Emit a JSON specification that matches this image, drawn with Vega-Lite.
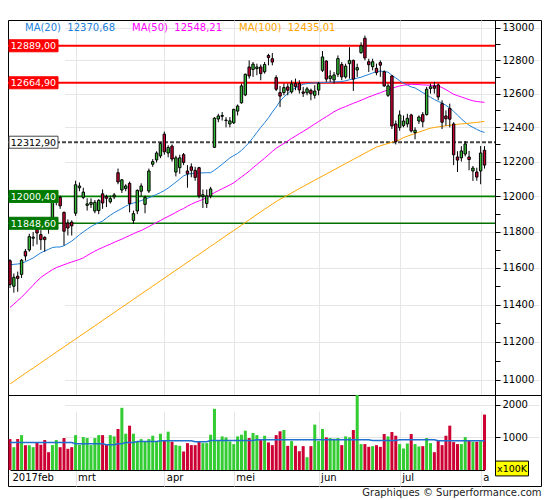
{
"$schema": "https://vega.github.io/schema/vega-lite/v6.json",
"padding": {"left": 6, "right": 6, "top": 19, "bottom": 0},
"background": "white",
"config": {
  "font": "DejaVu Sans",
  "view": {"stroke": "black", "strokeWidth": 1},
  "axis": {"labelFont": "DejaVu Sans", "labelFontSize": 10, "labelColor": "black", "gridColor": "#e6e6e6", "domainColor": "black", "tickColor": "black", "title": null},
  "legend": {"labelFont": "DejaVu Sans", "labelFontSize": 10}
},
"title": {"text": "Graphiques © Surperformance.com", "orient": "bottom", "anchor": "end", "fontSize": 10, "fontWeight": "normal", "font": "DejaVu Sans", "color": "#222222", "offset": 1},
"datasets": {
"px": [
{"d":"2017-02-06","o":11640,"h":11648,"l":11490,"c":11509,"v":948,"m20":11618,"m50":11385,"m100":10979,"vm":845},
{"d":"2017-02-07","o":11500,"h":11570,"l":11465,"c":11549,"v":700,"m20":11620,"m50":11403,"m100":10993,"vm":845},
{"d":"2017-02-08","o":11555,"h":11580,"l":11470,"c":11543,"v":950,"m20":11622,"m50":11422,"m100":11007,"vm":845},
{"d":"2017-02-09","o":11565,"h":11650,"l":11545,"c":11643,"v":1070,"m20":11625,"m50":11440,"m100":11021,"vm":845},
{"d":"2017-02-10","o":11692,"h":11705,"l":11640,"c":11666,"v":760,"m20":11635,"m50":11462,"m100":11035,"vm":845},
{"d":"2017-02-13","o":11700,"h":11790,"l":11690,"c":11774,"v":760,"m20":11645,"m50":11484,"m100":11049,"vm":845},
{"d":"2017-02-14","o":11765,"h":11800,"l":11720,"c":11771,"v":700,"m20":11655,"m50":11506,"m100":11062,"vm":845},
{"d":"2017-02-15","o":11815,"h":11830,"l":11730,"c":11794,"v":845,"m20":11670,"m50":11528,"m100":11076,"vm":845},
{"d":"2017-02-16","o":11785,"h":11810,"l":11700,"c":11757,"v":775,"m20":11684,"m50":11548,"m100":11090,"vm":845},
{"d":"2017-02-17","o":11770,"h":11775,"l":11690,"c":11757,"v":918,"m20":11694,"m50":11563,"m100":11104,"vm":845},
{"d":"2017-02-20","o":11855,"h":11862,"l":11790,"c":11828,"v":546,"m20":11703,"m50":11577,"m100":11118,"vm":845},
{"d":"2017-02-21","o":11830,"h":11970,"l":11820,"c":11967,"v":763,"m20":11713,"m50":11591,"m100":11132,"vm":845},
{"d":"2017-02-22","o":11970,"h":12030,"l":11950,"c":11998,"v":918,"m20":11716,"m50":11602,"m100":11146,"vm":845},
{"d":"2017-02-23","o":11995,"h":12005,"l":11930,"c":11947,"v":700,"m20":11716,"m50":11610,"m100":11160,"vm":845},
{"d":"2017-02-24","o":11910,"h":11915,"l":11725,"c":11804,"v":980,"m20":11723,"m50":11618,"m100":11174,"vm":845},
{"d":"2017-02-27","o":11850,"h":11870,"l":11780,"c":11822,"v":650,"m20":11736,"m50":11626,"m100":11188,"vm":845},
{"d":"2017-02-28","o":11855,"h":11865,"l":11780,"c":11834,"v":700,"m20":11749,"m50":11633,"m100":11202,"vm":845},
{"d":"2017-03-01","o":11905,"h":12090,"l":11890,"c":12067,"v":1070,"m20":11766,"m50":11640,"m100":11216,"vm":804},
{"d":"2017-03-02","o":12050,"h":12080,"l":12030,"c":12060,"v":773,"m20":11784,"m50":11647,"m100":11230,"vm":804},
{"d":"2017-03-03","o":11995,"h":12050,"l":11985,"c":12025,"v":1010,"m20":11800,"m50":11656,"m100":11244,"vm":804},
{"d":"2017-03-06","o":11950,"h":11990,"l":11920,"c":11958,"v":980,"m20":11815,"m50":11669,"m100":11258,"vm":804},
{"d":"2017-03-07","o":11955,"h":11990,"l":11935,"c":11966,"v":763,"m20":11830,"m50":11681,"m100":11272,"vm":804},
{"d":"2017-03-08","o":11918,"h":11980,"l":11905,"c":11967,"v":980,"m20":11842,"m50":11693,"m100":11286,"vm":804},
{"d":"2017-03-09","o":11920,"h":11985,"l":11900,"c":11978,"v":1070,"m20":11852,"m50":11704,"m100":11300,"vm":804},
{"d":"2017-03-10","o":12015,"h":12040,"l":11930,"c":11963,"v":1070,"m20":11861,"m50":11713,"m100":11315,"vm":804},
{"d":"2017-03-13","o":12000,"h":12010,"l":11940,"c":11990,"v":773,"m20":11878,"m50":11723,"m100":11329,"vm":773},
{"d":"2017-03-14","o":11970,"h":12005,"l":11960,"c":11988,"v":1070,"m20":11894,"m50":11732,"m100":11343,"vm":773},
{"d":"2017-03-15","o":11998,"h":12020,"l":11985,"c":12009,"v":1030,"m20":11908,"m50":11742,"m100":11357,"vm":773},
{"d":"2017-03-16","o":12136,"h":12160,"l":12070,"c":12083,"v":1258,"m20":11920,"m50":11751,"m100":11372,"vm":804},
{"d":"2017-03-17","o":12037,"h":12100,"l":12020,"c":12095,"v":1907,"m20":11932,"m50":11760,"m100":11386,"vm":804},
{"d":"2017-03-20","o":12045,"h":12070,"l":12030,"c":12060,"v":1113,"m20":11945,"m50":11770,"m100":11400,"vm":845},
{"d":"2017-03-21","o":12075,"h":12085,"l":11910,"c":11960,"v":1360,"m20":11955,"m50":11780,"m100":11414,"vm":845},
{"d":"2017-03-22","o":11865,"h":11920,"l":11845,"c":11903,"v":1113,"m20":11963,"m50":11790,"m100":11429,"vm":845},
{"d":"2017-03-23","o":11918,"h":12040,"l":11900,"c":12035,"v":876,"m20":11969,"m50":11800,"m100":11443,"vm":876},
{"d":"2017-03-24","o":12030,"h":12075,"l":12000,"c":12060,"v":948,"m20":11977,"m50":11808,"m100":11458,"vm":876},
{"d":"2017-03-27","o":11955,"h":12005,"l":11905,"c":11995,"v":866,"m20":11984,"m50":11819,"m100":11472,"vm":876},
{"d":"2017-03-28","o":12031,"h":12160,"l":12020,"c":12146,"v":948,"m20":11993,"m50":11830,"m100":11486,"vm":876},
{"d":"2017-03-29","o":12185,"h":12215,"l":12170,"c":12200,"v":1051,"m20":12002,"m50":11842,"m100":11501,"vm":876},
{"d":"2017-03-30","o":12210,"h":12260,"l":12195,"c":12250,"v":866,"m20":12012,"m50":11853,"m100":11515,"vm":876},
{"d":"2017-03-31","o":12233,"h":12315,"l":12220,"c":12305,"v":1113,"m20":12022,"m50":11864,"m100":11530,"vm":897},
{"d":"2017-04-03","o":12360,"h":12375,"l":12240,"c":12257,"v":907,"m20":12034,"m50":11876,"m100":11544,"vm":897},
{"d":"2017-04-04","o":12250,"h":12295,"l":12225,"c":12282,"v":1175,"m20":12048,"m50":11887,"m100":11559,"vm":897},
{"d":"2017-04-05","o":12290,"h":12300,"l":12200,"c":12215,"v":866,"m20":12065,"m50":11898,"m100":11573,"vm":897},
{"d":"2017-04-06","o":12140,"h":12235,"l":12115,"c":12222,"v":763,"m20":12082,"m50":11910,"m100":11588,"vm":897},
{"d":"2017-04-07","o":12165,"h":12240,"l":12130,"c":12222,"v":742,"m20":12100,"m50":11922,"m100":11602,"vm":897},
{"d":"2017-04-10","o":12240,"h":12250,"l":12180,"c":12195,"v":567,"m20":12118,"m50":11932,"m100":11617,"vm":897},
{"d":"2017-04-11","o":12146,"h":12180,"l":12050,"c":12130,"v":825,"m20":12127,"m50":11945,"m100":11632,"vm":897},
{"d":"2017-04-12","o":12170,"h":12190,"l":12110,"c":12150,"v":763,"m20":12131,"m50":11956,"m100":11646,"vm":897},
{"d":"2017-04-13","o":12150,"h":12170,"l":12090,"c":12109,"v":763,"m20":12134,"m50":11966,"m100":11661,"vm":866},
{"d":"2017-04-18","o":12165,"h":12170,"l":11990,"c":12003,"v":876,"m20":12135,"m50":11975,"m100":11675,"vm":866},
{"d":"2017-04-19","o":12000,"h":12040,"l":11935,"c":12010,"v":825,"m20":12135,"m50":11983,"m100":11690,"vm":866},
{"d":"2017-04-20","o":11960,"h":12040,"l":11935,"c":12003,"v":825,"m20":12136,"m50":11996,"m100":11705,"vm":866},
{"d":"2017-04-21","o":12003,"h":12055,"l":11990,"c":12043,"v":1082,"m20":12136,"m50":12010,"m100":11720,"vm":907},
{"d":"2017-04-24","o":12283,"h":12460,"l":12280,"c":12454,"v":1876,"m20":12151,"m50":12022,"m100":11734,"vm":907},
{"d":"2017-04-25","o":12449,"h":12480,"l":12430,"c":12467,"v":907,"m20":12167,"m50":12033,"m100":11749,"vm":907},
{"d":"2017-04-26","o":12465,"h":12490,"l":12440,"c":12470,"v":1030,"m20":12185,"m50":12044,"m100":11764,"vm":907},
{"d":"2017-04-27","o":12440,"h":12460,"l":12400,"c":12443,"v":1000,"m20":12203,"m50":12055,"m100":11779,"vm":907},
{"d":"2017-04-28","o":12420,"h":12460,"l":12400,"c":12438,"v":876,"m20":12222,"m50":12066,"m100":11794,"vm":907},
{"d":"2017-05-02","o":12427,"h":12510,"l":12420,"c":12506,"v":794,"m20":12235,"m50":12078,"m100":11808,"vm":907},
{"d":"2017-05-03","o":12496,"h":12535,"l":12470,"c":12526,"v":1030,"m20":12248,"m50":12095,"m100":11823,"vm":907},
{"d":"2017-05-04","o":12545,"h":12660,"l":12540,"c":12646,"v":1082,"m20":12265,"m50":12112,"m100":11838,"vm":907},
{"d":"2017-05-05","o":12592,"h":12720,"l":12585,"c":12716,"v":1206,"m20":12288,"m50":12128,"m100":11853,"vm":907},
{"d":"2017-05-08","o":12760,"h":12800,"l":12690,"c":12706,"v":980,"m20":12311,"m50":12145,"m100":11868,"vm":907},
{"d":"2017-05-09","o":12745,"h":12790,"l":12700,"c":12777,"v":1134,"m20":12340,"m50":12165,"m100":11883,"vm":907},
{"d":"2017-05-10","o":12750,"h":12780,"l":12710,"c":12760,"v":1070,"m20":12370,"m50":12183,"m100":11898,"vm":928},
{"d":"2017-05-11","o":12760,"h":12775,"l":12680,"c":12720,"v":918,"m20":12400,"m50":12202,"m100":11913,"vm":928},
{"d":"2017-05-12","o":12731,"h":12790,"l":12720,"c":12775,"v":1051,"m20":12427,"m50":12220,"m100":11928,"vm":928},
{"d":"2017-05-15","o":12830,"h":12840,"l":12770,"c":12817,"v":845,"m20":12456,"m50":12240,"m100":11942,"vm":928},
{"d":"2017-05-16","o":12810,"h":12845,"l":12770,"c":12790,"v":763,"m20":12490,"m50":12259,"m100":11957,"vm":928},
{"d":"2017-05-17","o":12696,"h":12710,"l":12615,"c":12626,"v":1070,"m20":12520,"m50":12278,"m100":11971,"vm":928},
{"d":"2017-05-18","o":12606,"h":12646,"l":12520,"c":12585,"v":1186,"m20":12555,"m50":12292,"m100":11984,"vm":928},
{"d":"2017-05-19","o":12606,"h":12660,"l":12590,"c":12636,"v":1227,"m20":12580,"m50":12306,"m100":11996,"vm":928},
{"d":"2017-05-22","o":12640,"h":12660,"l":12590,"c":12620,"v":742,"m20":12600,"m50":12320,"m100":12008,"vm":928},
{"d":"2017-05-23","o":12610,"h":12680,"l":12600,"c":12659,"v":887,"m20":12620,"m50":12335,"m100":12020,"vm":928},
{"d":"2017-05-24","o":12660,"h":12690,"l":12620,"c":12642,"v":742,"m20":12635,"m50":12349,"m100":12033,"vm":928},
{"d":"2017-05-25","o":12660,"h":12680,"l":12600,"c":12622,"v":577,"m20":12645,"m50":12363,"m100":12045,"vm":928},
{"d":"2017-05-26","o":12610,"h":12640,"l":12580,"c":12602,"v":732,"m20":12656,"m50":12376,"m100":12057,"vm":928},
{"d":"2017-05-29","o":12605,"h":12640,"l":12590,"c":12628,"v":392,"m20":12660,"m50":12390,"m100":12069,"vm":928},
{"d":"2017-05-30","o":12620,"h":12630,"l":12560,"c":12599,"v":732,"m20":12662,"m50":12405,"m100":12081,"vm":928},
{"d":"2017-05-31","o":12590,"h":12650,"l":12570,"c":12615,"v":1392,"m20":12664,"m50":12420,"m100":12093,"vm":928},
{"d":"2017-06-01","o":12621,"h":12670,"l":12590,"c":12661,"v":887,"m20":12665,"m50":12434,"m100":12105,"vm":928},
{"d":"2017-06-02","o":12740,"h":12857,"l":12730,"c":12821,"v":1258,"m20":12666,"m50":12449,"m100":12117,"vm":928},
{"d":"2017-06-06","o":12796,"h":12800,"l":12670,"c":12687,"v":1000,"m20":12667,"m50":12463,"m100":12129,"vm":928},
{"d":"2017-06-07","o":12690,"h":12740,"l":12670,"c":12706,"v":980,"m20":12668,"m50":12477,"m100":12141,"vm":928},
{"d":"2017-06-08","o":12682,"h":12730,"l":12660,"c":12712,"v":959,"m20":12670,"m50":12492,"m100":12153,"vm":928},
{"d":"2017-06-09","o":12716,"h":12830,"l":12700,"c":12811,"v":980,"m20":12671,"m50":12504,"m100":12165,"vm":928},
{"d":"2017-06-12","o":12775,"h":12790,"l":12680,"c":12700,"v":763,"m20":12672,"m50":12514,"m100":12177,"vm":928},
{"d":"2017-06-13","o":12700,"h":12780,"l":12690,"c":12765,"v":1030,"m20":12677,"m50":12523,"m100":12189,"vm":928},
{"d":"2017-06-14","o":12780,"h":12880,"l":12690,"c":12800,"v":1000,"m20":12683,"m50":12533,"m100":12201,"vm":928},
{"d":"2017-06-15","o":12800,"h":12805,"l":12616,"c":12687,"v":1227,"m20":12688,"m50":12542,"m100":12213,"vm":928},
{"d":"2017-06-16","o":12742,"h":12780,"l":12700,"c":12756,"v":2400,"m20":12693,"m50":12551,"m100":12225,"vm":928},
{"d":"2017-06-19","o":12847,"h":12910,"l":12840,"c":12889,"v":794,"m20":12698,"m50":12560,"m100":12237,"vm":928},
{"d":"2017-06-20","o":12935,"h":12951,"l":12800,"c":12815,"v":794,"m20":12707,"m50":12570,"m100":12249,"vm":928},
{"d":"2017-06-21","o":12792,"h":12810,"l":12730,"c":12774,"v":711,"m20":12715,"m50":12580,"m100":12261,"vm":928},
{"d":"2017-06-22","o":12762,"h":12810,"l":12740,"c":12792,"v":732,"m20":12724,"m50":12588,"m100":12273,"vm":907},
{"d":"2017-06-23","o":12752,"h":12780,"l":12710,"c":12726,"v":763,"m20":12733,"m50":12597,"m100":12285,"vm":907},
{"d":"2017-06-26","o":12787,"h":12800,"l":12700,"c":12771,"v":711,"m20":12735,"m50":12605,"m100":12292,"vm":907},
{"d":"2017-06-27","o":12731,"h":12740,"l":12640,"c":12646,"v":1103,"m20":12732,"m50":12614,"m100":12299,"vm":907},
{"d":"2017-06-28","o":12590,"h":12660,"l":12580,"c":12646,"v":1030,"m20":12729,"m50":12622,"m100":12306,"vm":907},
{"d":"2017-06-29","o":12706,"h":12710,"l":12390,"c":12408,"v":1165,"m20":12710,"m50":12631,"m100":12313,"vm":907},
{"d":"2017-06-30","o":12420,"h":12440,"l":12300,"c":12316,"v":1051,"m20":12694,"m50":12639,"m100":12319,"vm":907},
{"d":"2017-07-03","o":12398,"h":12500,"l":12380,"c":12473,"v":794,"m20":12677,"m50":12646,"m100":12327,"vm":928},
{"d":"2017-07-04","o":12410,"h":12470,"l":12400,"c":12437,"v":660,"m20":12662,"m50":12650,"m100":12340,"vm":928},
{"d":"2017-07-05","o":12420,"h":12480,"l":12400,"c":12453,"v":814,"m20":12651,"m50":12653,"m100":12348,"vm":928},
{"d":"2017-07-06","o":12473,"h":12480,"l":12370,"c":12379,"v":1103,"m20":12640,"m50":12656,"m100":12356,"vm":928},
{"d":"2017-07-07","o":12369,"h":12400,"l":12330,"c":12383,"v":794,"m20":12634,"m50":12655,"m100":12364,"vm":928},
{"d":"2017-07-10","o":12437,"h":12470,"l":12420,"c":12461,"v":722,"m20":12620,"m50":12654,"m100":12372,"vm":928},
{"d":"2017-07-11","o":12475,"h":12490,"l":12400,"c":12433,"v":732,"m20":12606,"m50":12652,"m100":12380,"vm":928},
{"d":"2017-07-12","o":12475,"h":12640,"l":12470,"c":12626,"v":980,"m20":12592,"m50":12651,"m100":12388,"vm":928},
{"d":"2017-07-13","o":12630,"h":12660,"l":12600,"c":12641,"v":825,"m20":12578,"m50":12650,"m100":12395,"vm":928},
{"d":"2017-07-14","o":12645,"h":12670,"l":12600,"c":12632,"v":546,"m20":12565,"m50":12648,"m100":12399,"vm":928},
{"d":"2017-07-17","o":12652,"h":12660,"l":12560,"c":12580,"v":897,"m20":12553,"m50":12646,"m100":12403,"vm":897},
{"d":"2017-07-18","o":12540,"h":12560,"l":12390,"c":12430,"v":763,"m20":12544,"m50":12636,"m100":12406,"vm":897},
{"d":"2017-07-19","o":12467,"h":12500,"l":12410,"c":12450,"v":1051,"m20":12530,"m50":12624,"m100":12409,"vm":897},
{"d":"2017-07-20","o":12512,"h":12540,"l":12400,"c":12448,"v":1360,"m20":12514,"m50":12610,"m100":12412,"vm":897},
{"d":"2017-07-21","o":12420,"h":12430,"l":12180,"c":12240,"v":856,"m20":12495,"m50":12596,"m100":12415,"vm":897},
{"d":"2017-07-24","o":12227,"h":12260,"l":12140,"c":12209,"v":794,"m20":12472,"m50":12588,"m100":12418,"vm":897},
{"d":"2017-07-25","o":12222,"h":12290,"l":12200,"c":12262,"v":794,"m20":12450,"m50":12580,"m100":12420,"vm":897},
{"d":"2017-07-26","o":12244,"h":12320,"l":12230,"c":12303,"v":1010,"m20":12430,"m50":12572,"m100":12422,"vm":897},
{"d":"2017-07-27","o":12227,"h":12262,"l":12150,"c":12212,"v":897,"m20":12412,"m50":12564,"m100":12424,"vm":897},
{"d":"2017-07-28","o":12146,"h":12175,"l":12089,"c":12163,"v":866,"m20":12400,"m50":12557,"m100":12427,"vm":897},
{"d":"2017-07-31","o":12140,"h":12165,"l":12090,"c":12111,"v":866,"m20":12388,"m50":12553,"m100":12429,"vm":897},
{"d":"2017-08-01","o":12146,"h":12291,"l":12070,"c":12250,"v":880,"m20":12377,"m50":12550,"m100":12432,"vm":897},
{"d":"2017-08-02","o":12266,"h":12290,"l":12160,"c":12180,"v":1700,"m20":12370,"m50":12548,"m100":12435,"vm":897}
],
"lv": [
{"lvl":12889,"lab":"12889,00","kind":"r1"},
{"lvl":12664.9,"lab":"12664,90","kind":"r2"},
{"lvl":12312.9,"lab":"12312,90","kind":"p"},
{"lvl":12000.4,"lab":"12000,40","kind":"s1"},
{"lvl":11848.6,"lab":"11848,60","kind":"s2"}
],
"unit": [{"t":"x100K"}]
},
"spacing": 0,
"bounds": "flush",
"resolve": {"scale": {"x": "independent", "y": "independent", "color": "independent", "fill": "independent", "stroke": "independent"}},
"vconcat": [
{
  "width": 533, "height": 375,
  "data": {"name": "px"},
  "encoding": {
    "x": {"field": "d", "type": "ordinal", "scale": {"type": "point", "range": [2, 476.5], "padding": 0},
      "axis": {"values": ["2017-03-01","2017-04-03","2017-05-02","2017-06-01","2017-07-03","2017-08-01"], "grid": true, "labels": false, "ticks": false, "domain": false, "title": null}}
  },
  "layer": [
    {
      "data": {"name": "lv"},
      "mark": {"type": "rule", "xOffset": -2, "x2Offset": 10.5},
      "encoding": {
        "x": {"datum": "2017-02-06", "type": "ordinal"},
        "x2": {"datum": "2017-08-02"},
        "y": {"field": "lvl", "type": "quantitative", "scale": {"type": "log", "domain": [10922, 13047.5], "nice": false}},
        "stroke": {"field": "kind", "type": "nominal", "scale": {"domain": ["r1","r2","p","s1","s2"], "range": ["#ff0000","#ff0000","#444444","#008000","#007000"]}, "legend": null},
        "strokeWidth": {"field": "kind", "type": "ordinal", "scale": {"domain": ["r1","r2","p","s1","s2"], "range": [2, 1.7, 1, 1.3, 2.8]}, "legend": null},
        "strokeDash": {"field": "kind", "type": "nominal", "scale": {"domain": ["r1","r2","p","s1","s2"], "range": [[1,0],[1,0],[4,2],[1,0],[1,0]]}, "legend": null}
      }
    },
    {
      "transform": [{"fold": ["m20","m50","m100"], "as": ["key","val"]}],
      "mark": {"type": "line", "strokeWidth": 1},
      "encoding": {
        "y": {"field": "val", "type": "quantitative", "scale": {"type": "log", "domain": [10922, 13047.5], "nice": false}},
        "color": {"field": "key", "type": "nominal", "scale": {"domain": ["m20","m50","m100"], "range": ["#2080d8","#ff00ff","#ffa500"]},
          "legend": {"orient": "none", "legendX": 7, "legendY": 2.5, "direction": "horizontal", "title": null,
            "symbolSize": 0, "symbolOpacity": 0, "symbolStrokeWidth": 0, "labelOffset": 0, "columnPadding": 6, "labelLimit": 200, "labelFontSize": 10,
            "labelExpr": "datum.label == 'm20' ? 'MA(20)\u00a0\u00a012370,68' : datum.label == 'm50' ? 'MA(50)\u00a0\u00a012548,21' : 'MA(100)\u00a0\u00a012435,01'",
            "encode": {"labels": {"update": {"fill": {"signal": "datum.value == 'm20' ? '#2080d8' : datum.value == 'm50' ? '#ff00ff' : '#ffa500'"}}}}}}
      }
    },
    {
      "mark": {"type": "rule", "color": "black", "strokeWidth": 1},
      "encoding": {
        "y": {"field": "l", "type": "quantitative", "scale": {"type": "log", "domain": [10922, 13047.5], "nice": false},
          "axis": {"orient": "right", "offset": -46, "title": null, "grid": true,
            "values": [11000,11100,11200,11300,11400,11500,11600,11700,11800,11900,12000,12100,12200,12300,12400,12500,12600,12700,12800,12900,13000],
            "format": "d", "labelExpr": "datum.value % 200 == 0 ? datum.label : ''", "labelOverlap": false,
            "gridOpacity": {"condition": {"test": "datum.value % 200 != 0", "value": 0}, "value": 1},
            "tickSize": 5, "labelPadding": 2}},
        "y2": {"field": "h"}
      }
    },
    {
      "mark": {"type": "bar", "width": 2.4, "stroke": "black", "strokeWidth": 1},
      "encoding": {
        "y": {"field": "o", "type": "quantitative", "scale": {"type": "log", "domain": [10922, 13047.5], "nice": false}},
        "y2": {"field": "c"},
        "fill": {"condition": {"test": "datum.c >= datum.o", "value": "#33bb33"}, "value": "#cc0033"}
      }
    },
    {
      "data": {"name": "lv"},
      "mark": {"type": "point", "shape": "M-1,-0.245H1V0.245H-1Z", "size": 2401, "filled": true, "opacity": 1, "xOffset": 23.5, "strokeWidth": 1},
      "encoding": {
        "x": {"datum": "2017-02-06", "type": "ordinal"},
        "y": {"field": "lvl", "type": "quantitative", "scale": {"type": "log", "domain": [10922, 13047.5], "nice": false}},
        "fill": {"field": "kind", "type": "nominal", "scale": {"domain": ["r1","r2","p","s1","s2"], "range": ["#ff0000","#ff0000","#ffffff","#007a00","#007a00"]}, "legend": null},
        "stroke": {"field": "kind", "type": "nominal", "legend": null}
      }
    },
    {
      "data": {"name": "lv"},
      "mark": {"type": "text", "xOffset": 23.5, "fontSize": 9.5, "font": "DejaVu Sans", "align": "center", "baseline": "middle", "dy": 0.5},
      "encoding": {
        "x": {"datum": "2017-02-06", "type": "ordinal"},
        "y": {"field": "lvl", "type": "quantitative", "scale": {"type": "log", "domain": [10922, 13047.5], "nice": false}},
        "text": {"field": "lab"},
        "color": {"condition": {"test": "datum.kind == 'p'", "value": "black"}, "value": "white"}
      }
    }
  ]
},
{
  "width": 533, "height": 91,
  "data": {"name": "px"},
  "encoding": {
    "x": {"field": "d", "type": "ordinal", "scale": {"type": "point", "range": [2, 476.5], "padding": 0},
      "axis": {"values": ["2017-02-06","2017-03-01","2017-04-03","2017-05-02","2017-06-01","2017-07-03","2017-08-01"],
        "labelExpr": "datum.value == '2017-02-06' ? '2017feb' : datum.value == '2017-03-01' ? 'mrt' : datum.value == '2017-04-03' ? 'apr' : datum.value == '2017-05-02' ? 'mei' : datum.value == '2017-06-01' ? 'jun' : datum.value == '2017-07-03' ? 'jul' : 'a'",
        "labelAlign": "left", "labelAngle": 0, "labelOffset": 2, "labelPadding": 2, "labelBaseline": "top", "labelOverlap": false,
        "offset": -16, "ticks": false, "domain": true, "grid": true,
        "gridOpacity": {"condition": {"test": "datum.value == '2017-02-06'", "value": 0}, "value": 1},
        "title": null}}
  },
  "layer": [
    {
      "mark": {"type": "bar", "width": 3, "clip": true},
      "encoding": {
        "y": {"field": "v", "type": "quantitative", "scale": {"domain": [0, 2300], "range": [75, 0], "nice": false},
          "axis": {"orient": "right", "offset": -46, "title": null, "grid": true, "values": [1000, 2000], "format": "d",
            "labelOverlap": false, "labelBound": false, "tickSize": 5, "labelPadding": 2}},
        "fill": {"condition": {"test": "datum.c >= datum.o", "value": "#33cc33"}, "value": "#cc0033"}
      }
    },
    {
      "mark": {"type": "line", "color": "#1f6fd0", "strokeWidth": 1.5},
      "encoding": {
        "y": {"field": "vm", "type": "quantitative", "scale": {"domain": [0, 2300], "range": [75, 0], "nice": false}}
      }
    },
    {
      "data": {"name": "unit"},
      "mark": {"type": "point", "shape": "M-1,-0.45H1V0.45H-1Z", "size": 1089, "filled": true, "fill": "#ffff00", "stroke": "black", "strokeWidth": 1, "opacity": 1, "xOffset": 27.5},
      "encoding": {
        "x": {"datum": "2017-08-02", "type": "ordinal"},
        "y": {"datum": 46, "type": "quantitative", "scale": {"domain": [0, 2300], "range": [75, 0], "nice": false}}
      }
    },
    {
      "data": {"name": "unit"},
      "mark": {"type": "text", "xOffset": 27.5, "fontSize": 9.5, "font": "DejaVu Sans", "color": "black", "align": "center", "baseline": "middle"},
      "encoding": {
        "x": {"datum": "2017-08-02", "type": "ordinal"},
        "y": {"datum": 46, "type": "quantitative", "scale": {"domain": [0, 2300], "range": [75, 0], "nice": false}},
        "text": {"field": "t"}
      }
    }
  ]
}
]
}
